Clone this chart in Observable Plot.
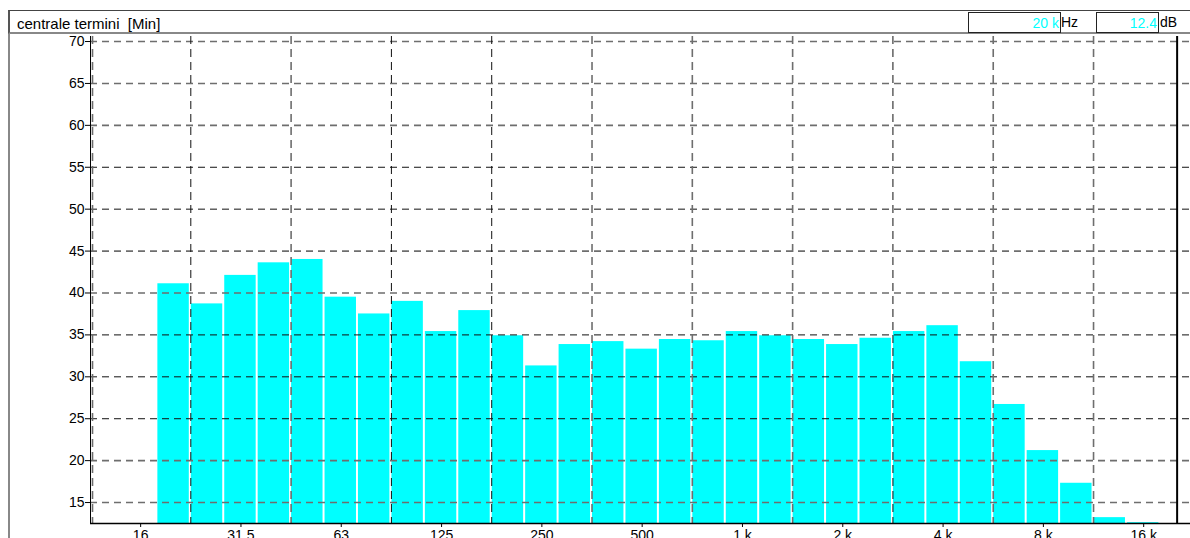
<!DOCTYPE html>
<html><head><meta charset="utf-8">
<script src="https://cdn.jsdelivr.net/npm/d3@7"></script>
<script src="https://cdn.jsdelivr.net/npm/@observablehq/plot@0.6"></script>
<style>
body{margin:0;background:#fff;font-family:Arial,"Liberation Sans",sans-serif;}
#wrap{position:relative;width:1190px;height:538px;overflow:hidden;background:#fff;}
#wrap svg{position:absolute;left:0;top:0;}
.frame{position:absolute;left:8px;top:10px;width:1200px;height:600px;border-left:2px solid #888;border-top:1px solid #444;box-sizing:border-box;}
.hdr{position:absolute;left:8px;top:10px;width:1200px;height:24px;border-bottom:2px solid #888;border-left:2px solid #555;border-top:1px solid #444;box-sizing:border-box;}
.title{position:absolute;left:17px;top:15px;font-size:15px;color:#000;line-height:17px;white-space:pre;}
.box{position:absolute;top:12px;height:21px;border:1px solid #222;box-sizing:border-box;font-size:14px;line-height:20px;text-align:right;color:#00ffff;padding-right:1px;}
.unit{position:absolute;top:14px;font-size:14px;line-height:17px;color:#000;}
</style></head><body>
<div id="wrap"></div>
<script>
// ---- data ----
const title = "centrale termini  [Min]";
const cursorFreq = "20 k";
const cursorLevel = "12.4";
const bandLabels = ["12.5","16","20","25","31.5","40","50","63","80","100","125","160","200","250","315","400","500","630","800","1 k","1.25 k","1.6 k","2 k","2.5 k","3.15 k","4 k","5 k","6.3 k","8 k","10 k","12.5 k","16 k","20 k"];
const barBands = ["20","25","31.5","40","50","63","80","100","125","160","200","250","315","400","500","630","800","1 k","1.25 k","1.6 k","2 k","2.5 k","3.15 k","4 k","5 k","6.3 k","8 k","10 k","12.5 k","16 k","20 k"];
const levels = [41.1,38.7,42.1,43.6,44.0,39.5,37.5,39.0,35.4,37.9,34.9,31.3,33.85,34.2,33.3,34.45,34.3,35.4,34.9,34.45,33.85,34.6,35.4,36.1,31.8,26.7,21.2,17.3,13.2,12.6,12.4];
const xTickBands = ["16","31.5","63","125","250","500","1 k","2 k","4 k","8 k","16 k"];
const yTicks = [15,20,25,30,35,40,45,50,55,60,65,70];
const yGrayLines = [15,20,40,45,60,65,70];
// octave boundaries between bands (lower band of each pair)
const octaveEdgeAfter = ["20","40","80","160","315","630","1.25 k","2.5 k","5 k","10 k"];
const xGrayEdges = ["40","315","630","1.25 k","5 k","10 k"];

// ---- build ----
const idx = b => bandLabels.indexOf(b);
const bars = barBands.map((b,k)=>({i:idx(b), v:levels[k]}));
const xTicks = xTickBands.map(idx);
const xGrid = octaveEdgeAfter.map(b=>({x:idx(b)+0.5, gray:xGrayEdges.includes(b)}));
const yGrid = yTicks.map(v=>({y:v, gray:yGrayLines.includes(v)}));

const plot = Plot.plot({
  width:1190, height:538,
  marginLeft:90, marginRight:0, marginTop:36, marginBottom:15,
  x:{type:"linear", domain:[-0.5, 32.4], axis:null, label:null},
  y:{domain:[12.5, 70.6], axis:null, label:null},
  style:{fontFamily:"Arial, 'Liberation Sans', sans-serif", fontSize:"14px", background:"transparent", overflow:"visible", color:"#000"},
  marks:[
    Plot.rectY(bars,{x1:d=>d.i-0.5, x2:d=>d.i+0.5, y1:12.5, y2:"v", fill:"#00ffff", insetLeft:0.5, insetRight:1.5, clip:true}),
    Plot.ruleY(yGrid,{y:"y", stroke:d=>d.gray?"#6e6e6e":"#111", strokeWidth:d=>d.gray?1.6:1, strokeDasharray:"7,5"}),
    Plot.ruleX(xGrid,{x:"x", stroke:d=>d.gray?"#6e6e6e":"#111", strokeWidth:d=>d.gray?1.6:1, strokeDasharray:"8,5"}),
    Plot.ruleX([-0.44],{stroke:"#6e6e6e", strokeWidth:1.6, strokeDasharray:"8,5"}),
    Plot.ruleX([-0.5],{stroke:"#000", strokeWidth:1}),
    Plot.ruleY([12.5],{stroke:"#000", strokeWidth:1.5}),
    Plot.ruleX([idx(cursorFreq)],{stroke:"#000", strokeWidth:2}),
    Plot.axisY(yTicks,{tickSize:5, tickPadding:1, fontSize:14, stroke:"#000", label:null}),
    Plot.axisX(xTicks,{tickSize:4, tickPadding:3, fontSize:14, stroke:"#000", label:null, tickFormat:d=>bandLabels[d]})
  ]
});
const wrap = document.getElementById("wrap");
wrap.appendChild(plot);

const add = (cls, style, text) => {
  const el = document.createElement("div");
  el.className = cls; Object.assign(el.style, style); if (text!=null) el.textContent = text;
  wrap.appendChild(el); return el;
};
add("frame",{});
add("hdr",{});
add("title",{}, title);
add("box",{left:"968px", width:"93px"}, cursorFreq);
add("unit",{left:"1061px"}, "Hz");
add("box",{left:"1096px", width:"63px"}, cursorLevel);
add("unit",{left:"1160px"}, "dB");
</script>
</body></html>
